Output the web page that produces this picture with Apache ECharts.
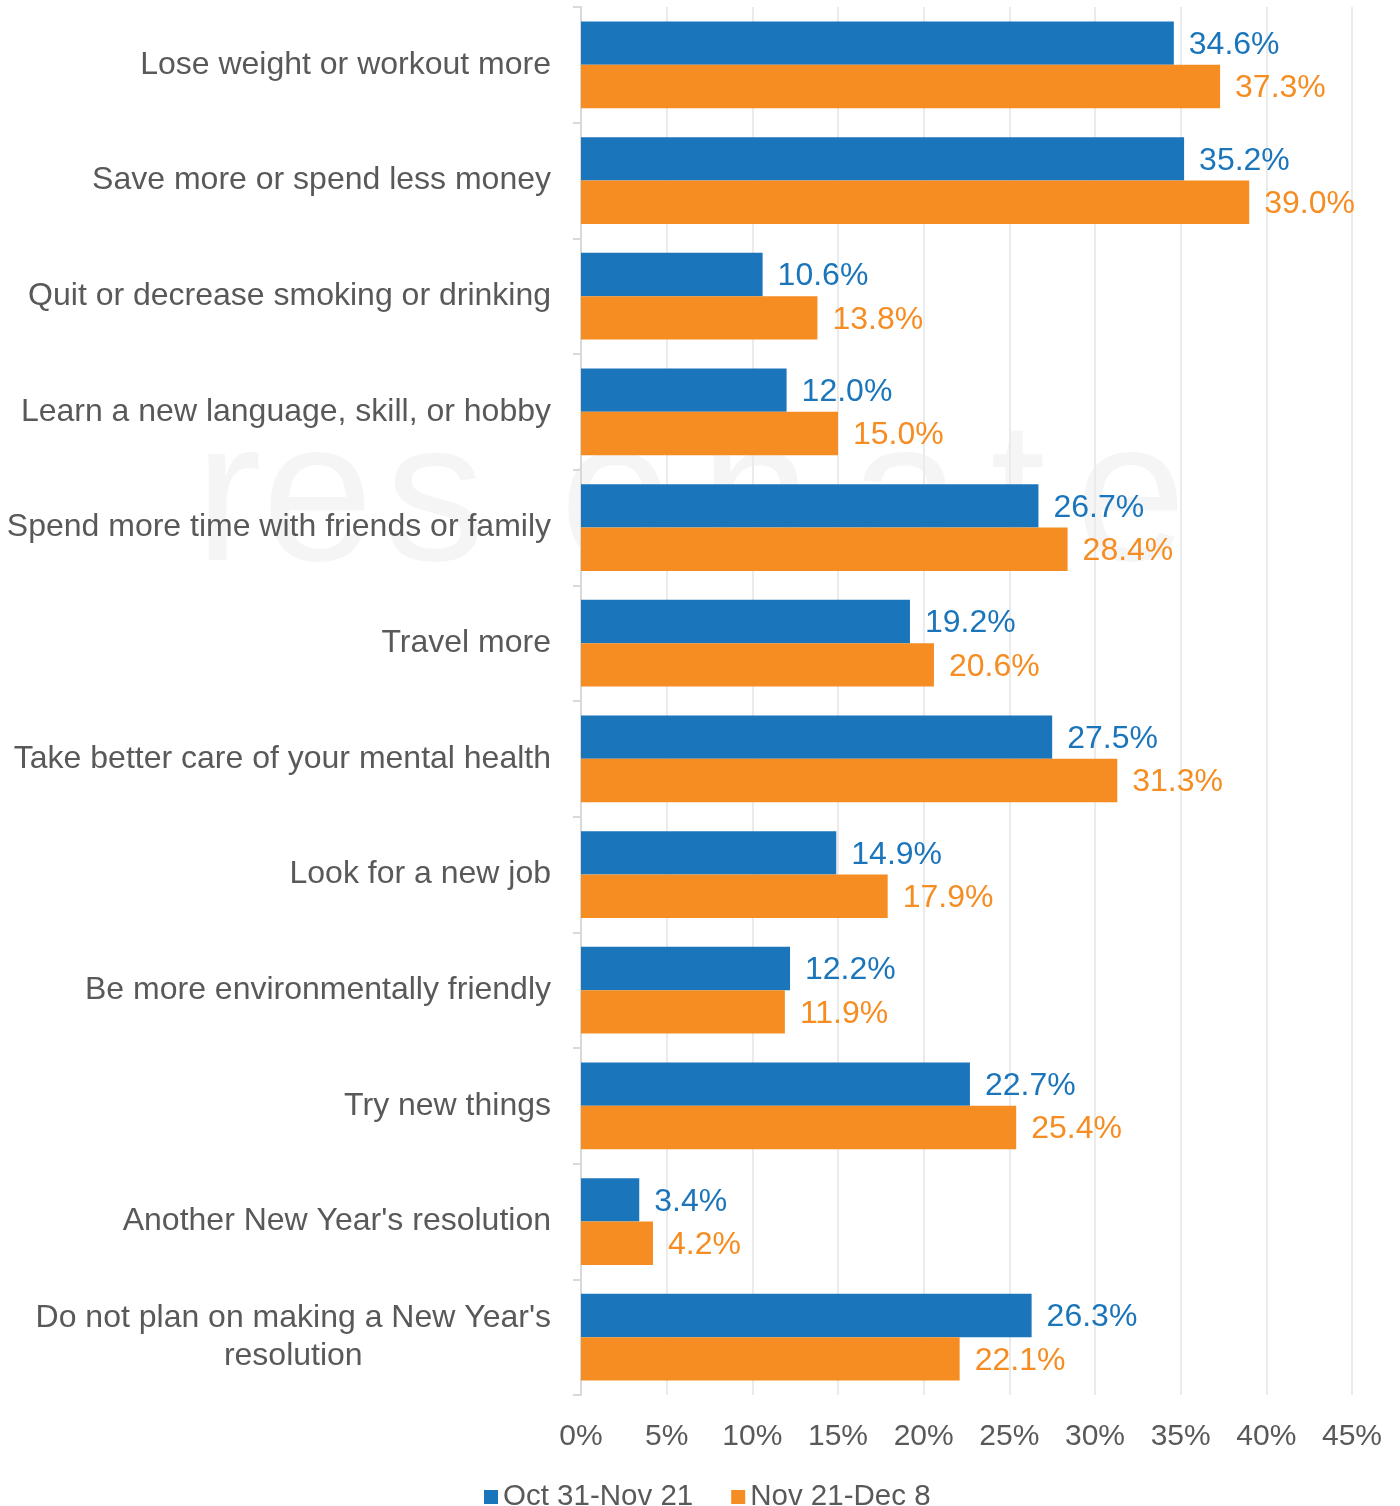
<!DOCTYPE html>
<html>
<head>
<meta charset="utf-8">
<script src="https://cdn.jsdelivr.net/npm/echarts@6/dist/echarts.min.js"></script>
<style>
html,body{margin:0;padding:0;background:#fff;}
#chart{width:1400px;height:1506px;}
</style>
</head>
<body>
<div id="chart"></div>
<script>
const categories = [
  "Lose weight or workout more",
  "Save more or spend less money",
  "Quit or decrease smoking or drinking",
  "Learn a new language, skill, or hobby",
  "Spend more time with friends or family",
  "Travel more",
  "Take better care of your mental health",
  "Look for a new job",
  "Be more environmentally friendly",
  "Try new things",
  "Another New Year's resolution",
  "Do not plan on making a New Year's\nresolution"
];
const seriesNames = ["Oct 31-Nov 21", "Nov 21-Dec 8"];
const octNov = [34.6, 35.2, 10.6, 12.0, 26.7, 19.2, 27.5, 14.9, 12.2, 22.7, 3.4, 26.3];
const novDec = [37.3, 39.0, 13.8, 15.0, 28.4, 20.6, 31.3, 17.9, 11.9, 25.4, 4.2, 22.1];
const xTicks = [0, 5, 10, 15, 20, 25, 30, 35, 40, 45];

const BLUE = '#1b75bb', ORANGE = '#f58d22', TEXT = '#595959';
const FONT = '"Liberation Sans", Arial, sans-serif';

const chart = echarts.init(document.getElementById('chart'), null, {renderer: 'canvas'});

const wmLetters = ['r','e','s','o','n','a','t','e'];
const wmX = [195, 262, 385, 560, 700, 850, 990, 1075];

chart.setOption({
  animation: false,
  textStyle: {fontFamily: FONT},
  graphic: wmLetters.map((ch, i) => ({
    type: 'text', left: wmX[i], top: 405, z: -10, silent: true,
    style: {text: ch, fontSize: 200, fontFamily: FONT, fontWeight: 'lighter', fill: 'rgba(0,0,0,0.04)'}
  })),
  grid: {left: 581, right: 48, top: 7, bottom: 111, containLabel: false},
  legend: {
    data: seriesNames,
    left: 479,
    top: 1477,
    icon: 'rect',
    itemWidth: 14, itemHeight: 14, itemGap: 38,
    textStyle: {fontSize: 29.5, color: TEXT, fontFamily: FONT}
  },
  xAxis: {
    type: 'value', min: xTicks[0], max: xTicks[xTicks.length - 1], interval: 5,
    axisLine: {show: false}, axisTick: {show: false},
    splitLine: {show: true, lineStyle: {color: '#ebebeb', width: 2}},
    axisLabel: {formatter: '{value}%', fontSize: 30, color: TEXT, margin: 27, fontFamily: FONT}
  },
  yAxis: {
    type: 'category', data: categories, inverse: true,
    axisLine: {show: true, lineStyle: {color: '#d9d9d9', width: 2}},
    axisTick: {show: true, length: 8, lineStyle: {color: '#d9d9d9', width: 2}},
    axisLabel: {
      margin: 30, fontSize: 32, color: TEXT, fontFamily: FONT,
      formatter: v => v.split('\n').map(s => '{c|' + s + '}').join('\n'),
      rich: {c: {align: 'center', fontSize: 32, color: TEXT, fontFamily: FONT, lineHeight: 38}}
    }
  },
  series: [
    {
      name: seriesNames[0], type: 'bar', data: octNov,
      barGap: '0%', barCategoryGap: '25%',
      itemStyle: {color: BLUE},
      label: {show: true, position: 'right', distance: 15, color: BLUE, fontSize: 32, fontFamily: FONT,
        offset: [0, 2], formatter: p => p.value.toFixed(1) + '%'}
    },
    {
      name: seriesNames[1], type: 'bar', data: novDec,
      barGap: '0%', barCategoryGap: '25%',
      itemStyle: {color: ORANGE},
      label: {show: true, position: 'right', distance: 15, color: ORANGE, fontSize: 32, fontFamily: FONT,
        offset: [0, 2], formatter: p => p.value.toFixed(1) + '%'}
    }
  ]
});
</script>
</body>
</html>
